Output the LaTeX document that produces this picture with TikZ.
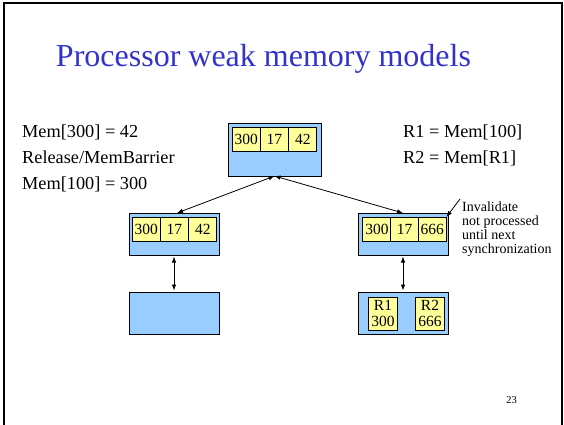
\documentclass[tikz,border=0pt]{standalone}
\usepackage{fontspec}
\setmainfont{Liberation Serif}
\usetikzlibrary{arrows.meta}
\definecolor{boxblue}{HTML}{99CCFF}
\definecolor{cellyellow}{HTML}{FFFF99}
\definecolor{titleblue}{HTML}{3333CC}
\tikzset{
  membox/.style={draw=black, fill=boxblue, line width=0.9pt, inner sep=0pt, outer sep=0pt, anchor=north west},
  cell/.style={draw=black, fill=cellyellow, line width=0.9pt, inner sep=0pt, outer sep=0pt,
    font=\fontsize{15.5}{16}\selectfont, minimum height=24pt, minimum width=28.3pt},
  regcell/.style={cell, minimum height=33pt, align=center},
  bodytext/.style={inner sep=0pt, anchor=base west, font=\fontsize{18.3}{22}\selectfont},
  conn/.style={{Latex[length=6pt,width=4.5pt]}-{Latex[length=6pt,width=4.5pt]}, line width=0.8pt},
  pointer/.style={-{Latex[length=6pt,width=4.5pt]}, line width=0.8pt},
}
\begin{document}
\begin{tikzpicture}[x=1pt,y=-1pt]
\useasboundingbox (0,0) rectangle (564,424);
% slide frame
\draw[line width=1.8pt] (3.7,430) -- (3.7,3) -- (561.7,3) -- (561.7,430);
% title
\node[inner sep=0pt, anchor=base, text=titleblue, font=\fontsize{32}{36}\selectfont] (title) at (263.5,66) {Processor weak memory models};
% left program text
\node[bodytext] (l1) at (22,137) {Mem[300] = 42};
\node[bodytext] (l2) at (22,163) {Release/MemBarrier};
\node[bodytext] (l3) at (22,189) {Mem[100] = 300};
% right program text
\node[bodytext] (r1) at (403,137) {R1 = Mem[100]};
\node[bodytext] (r2) at (403,163) {R2 = Mem[R1]};
% top memory box
\node[membox, minimum width=93pt, minimum height=53pt] (topbox) at (228,123) {};
\node[cell] (t1) at (246.15,139.5) {300};
\node[cell] (t2) at (274.45,139.5) {17};
\node[cell] (t3) at (302.75,139.5) {42};
% middle left cache
\node[membox, minimum width=90pt, minimum height=42pt] (midL) at (129,213) {};
\node[cell] (a1) at (146.15,229) {300};
\node[cell] (a2) at (174.45,229) {17};
\node[cell] (a3) at (202.75,229) {42};
% middle right cache
\node[membox, minimum width=90pt, minimum height=42pt] (midR) at (358,213) {};
\node[cell] (c1) at (377.05,229) {300};
\node[cell] (c2) at (404.65,229) {17};
\node[cell] (c3) at (432.25,229) {666};
% bottom processors
\node[membox, minimum width=90pt, minimum height=42pt] (botL) at (129,292) {};
\node[membox, minimum width=90pt, minimum height=42pt] (botR) at (358,292) {};
\node[regcell] (reg1) at (383,313.5) {R1\\300};
\node[regcell] (reg2) at (430,313.5) {R2\\666};
% connectors
\draw[conn] (topbox.south) -- ([xshift=3pt]midL.north);
\draw[conn] (topbox.south) -- (midR.north);
\draw[conn, shorten <=1.5pt, shorten >=1.5pt] (midL.south) -- (botL.north);
\draw[conn, shorten <=1.5pt, shorten >=1.5pt] (midR.south) -- (botR.north);
% annotation
\node[inner sep=0pt, anchor=north west, align=left, font=\fontsize{14}{14}\selectfont] (inval) at (462,201.5) {Invalidate\\not processed\\until next\\synchronization};
\coordinate (invtail) at (460,199);
\draw[pointer] (invtail) -- (c3.north east);
% page number
\node[inner sep=0pt, anchor=base, font=\fontsize{10.5}{12}\selectfont] (pagenum) at (511.5,403) {23};
\end{tikzpicture}
\end{document}
